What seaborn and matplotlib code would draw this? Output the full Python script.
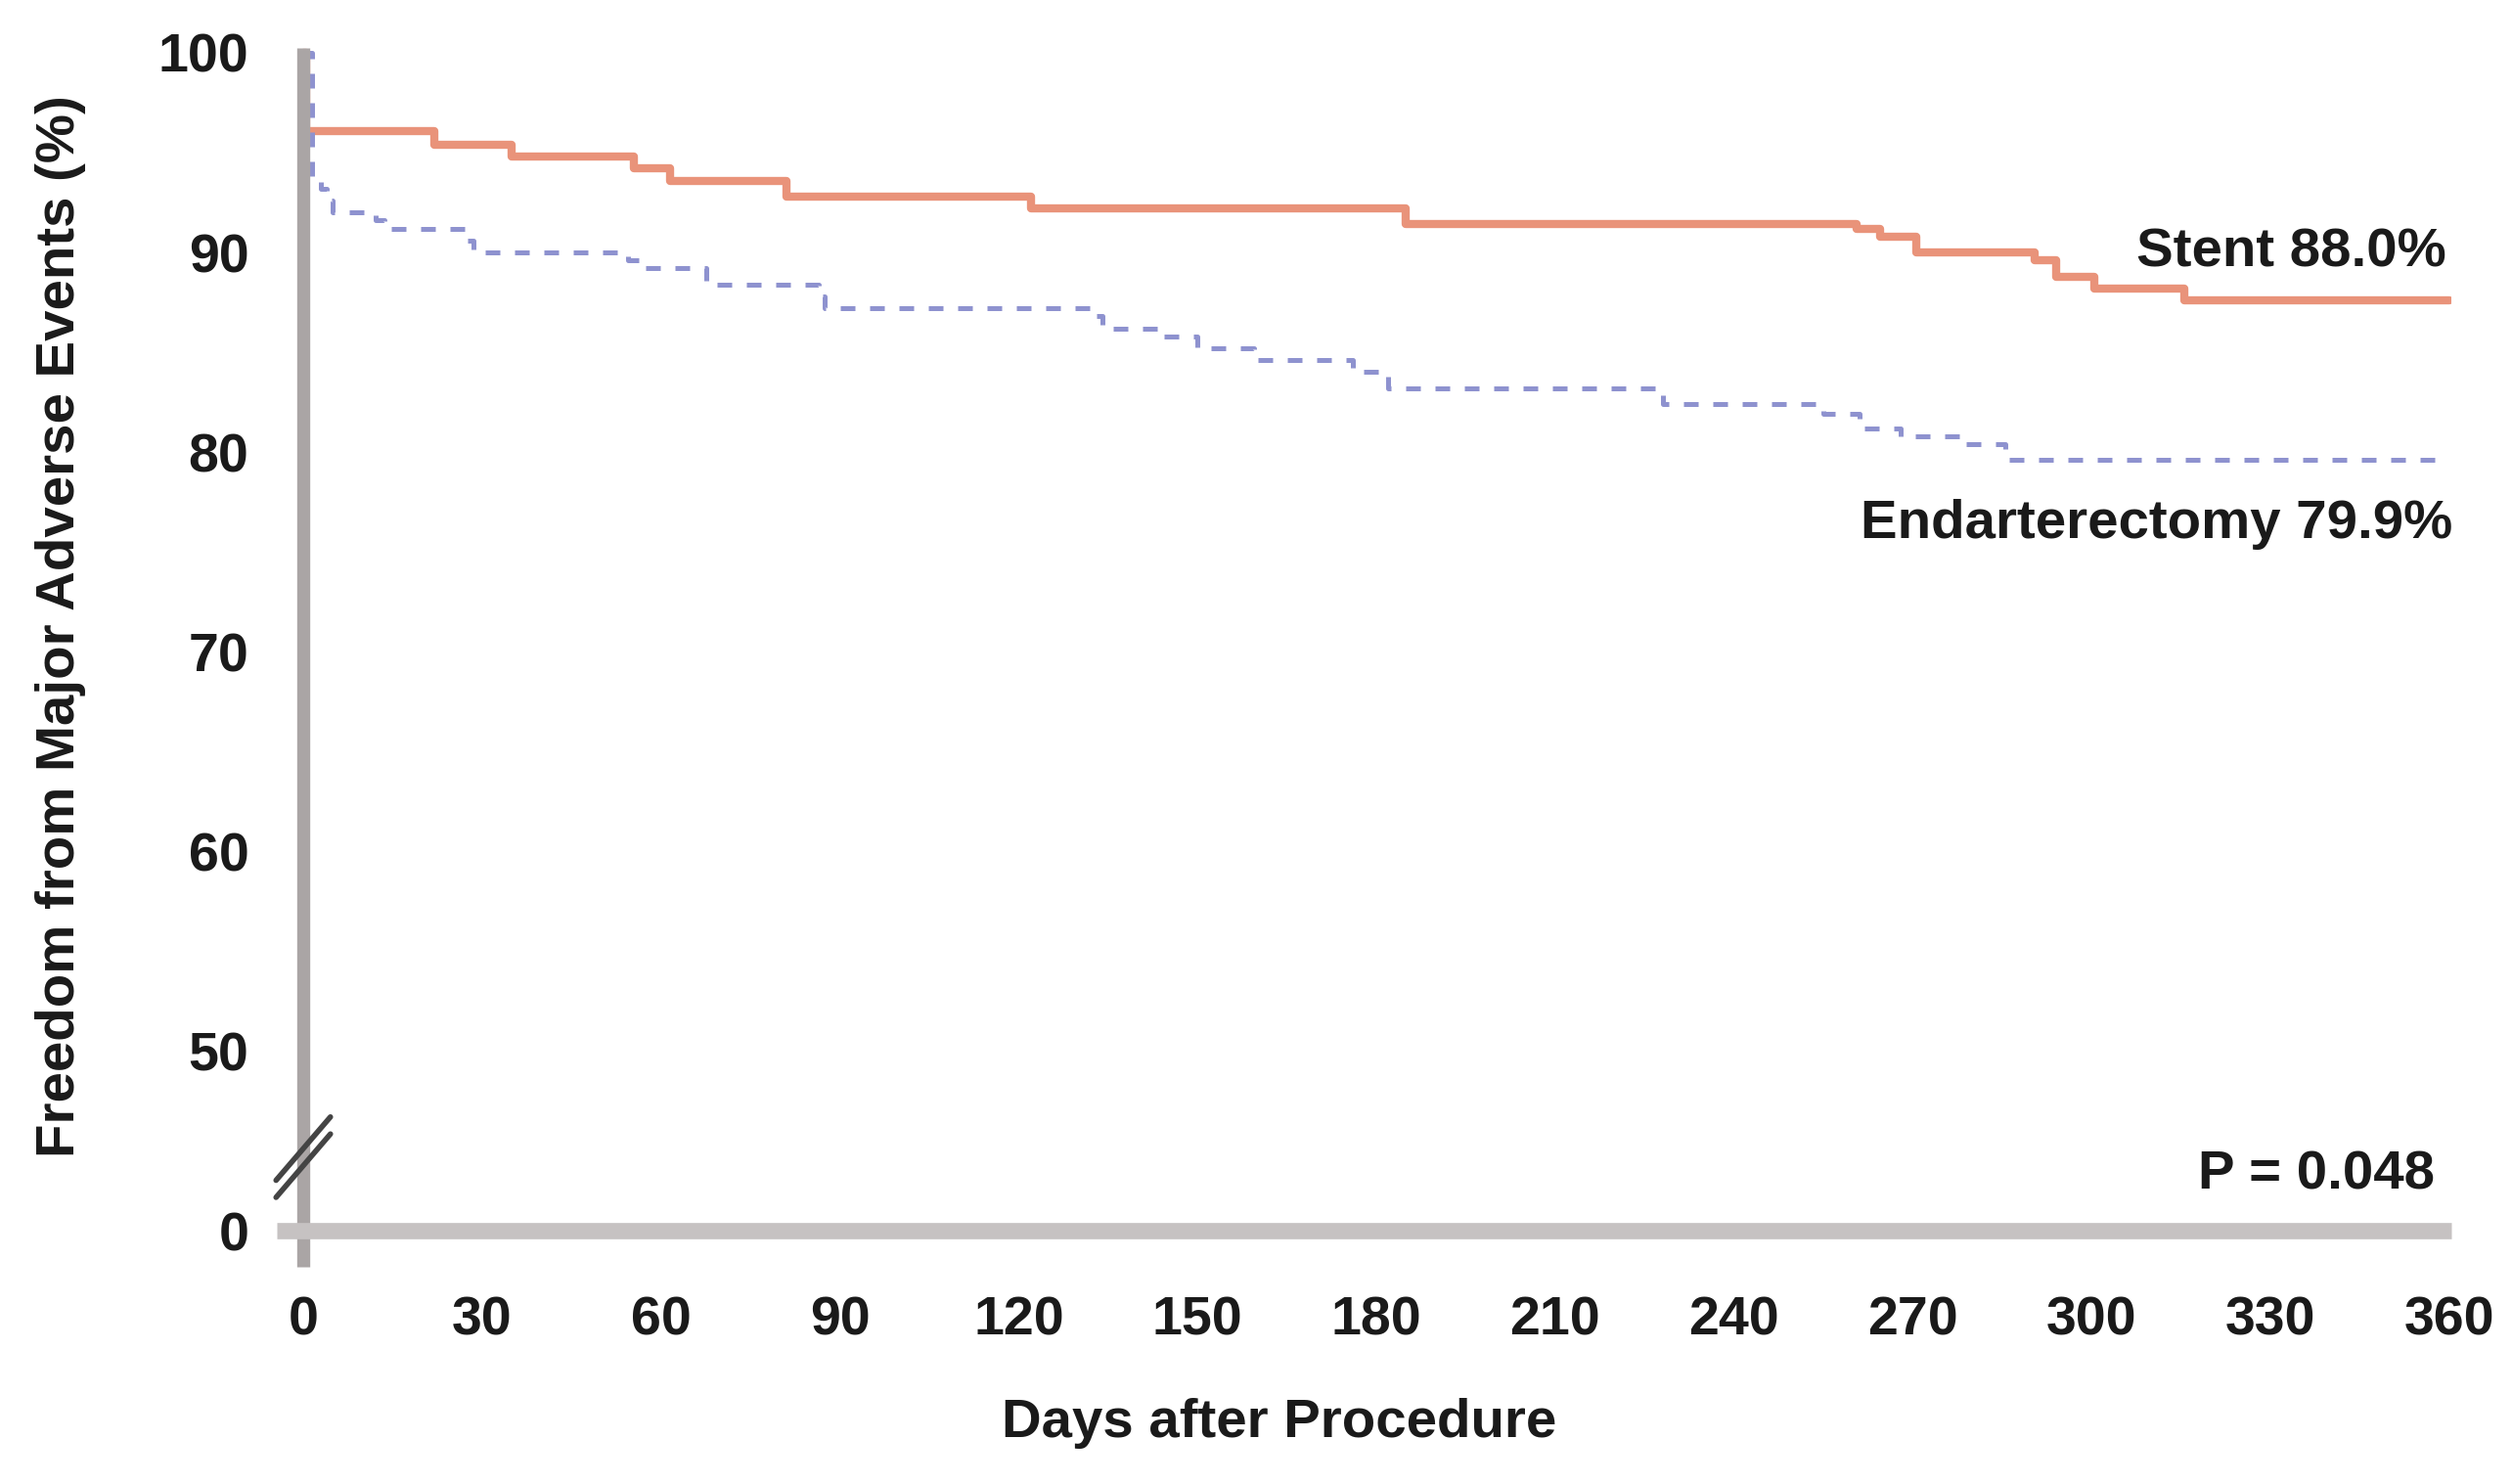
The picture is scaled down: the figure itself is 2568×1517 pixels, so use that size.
import numpy as np
import pandas as pd
import matplotlib
matplotlib.use("Agg")
import matplotlib.pyplot as plt
import seaborn as sns

# Kaplan-Meier style step data (day, % event free)
stent_days = [0, 0.5, 22, 35, 55.5, 61.5, 81, 122, 185, 260.5, 264.5, 270.5,
              290.5, 294, 300.5, 315.5, 360]
stent_surv = [100, 96.1, 95.4, 94.8, 94.2, 93.6, 92.8, 92.2, 91.4, 91.2, 90.8, 90.0,
              89.6, 88.8, 88.2, 87.6, 87.6]

endart_days = [0, 1.5, 3, 4, 5, 12.2, 13.6, 27.1, 28.6, 54.4, 56.5, 67.6, 86.5, 87.5,
               132, 134, 143.5, 150, 159.5, 176, 182, 228, 255, 261, 268, 278.5,
               285.5, 360]
endart_surv = [100, 93.8, 93.2, 92.6, 92.0, 91.6, 91.2, 90.6, 90.0, 89.6, 89.2, 88.4,
               87.8, 87.2, 86.8, 86.2, 85.8, 85.2, 84.6, 84.0, 83.2, 82.4, 81.9, 81.2,
               80.8, 80.4, 79.6, 79.6]

groups = ["Stent", "Endarterectomy"]
end_labels = ["Stent 88.0%", "Endarterectomy 79.9%"]
p_value_text = "P = 0.048"
x_ticks = list(range(0, 361, 30))
y_ticks = [0, 50, 60, 70, 80, 90, 100]

df = pd.concat([
    pd.DataFrame({"day": stent_days, "surv": stent_surv, "group": groups[0]}),
    pd.DataFrame({"day": endart_days, "surv": endart_surv, "group": groups[1]}),
], ignore_index=True)

sns.set_theme(style="white")
plt.rcParams["font.family"] = ["Liberation Sans", "DejaVu Sans"]
plt.rcParams["font.weight"] = "bold"

# axes box: day 0 at x=310px, day 360 at x=2504px; y=100 at 53px, y=0 at 1258px
xmin, xmax = -4.5, 360.3
px_day = (2504 - 310) / 360
left = (310 + xmin * px_day) / 2568
width = (xmax - xmin) * px_day / 2568

fig = plt.figure(figsize=(12.84, 7.585), dpi=200)
ax = fig.add_axes([left, 0.1465, width, 0.8213])

sns.lineplot(
    data=df, x="day", y="surv", hue="group", style="group",
    palette={"Stent": "#e9937a", "Endarterectomy": "#8e92cf"},
    dashes={"Stent": "", "Endarterectomy": (3, 3)},
    drawstyle="steps-post", estimator=None, sort=False, legend=False,
    ax=ax,
)
for line, lw in zip(ax.get_lines(), [3.0, 1.8]):
    line.set_linewidth(lw)


# broken y axis: 0 sits just below the 45 mark
def fwd(y):
    y = np.asarray(y, dtype=float)
    return np.where(y >= 45, y, 41.0 + y * 4.0 / 45.0)


def inv(u):
    u = np.asarray(u, dtype=float)
    return np.where(u >= 45, u, (u - 41.0) * 45.0 / 4.0)


ax.set_yscale("function", functions=(fwd, inv))
ax.set_xlim(xmin, xmax)
ax.set_ylim(-20.25, 100.25)
ax.set_xticks(x_ticks)
ax.set_yticks(y_ticks)
ax.minorticks_off()

for s in ["top", "right"]:
    ax.spines[s].set_visible(False)
ax.spines["left"].set_position(("data", 0))
ax.spines["left"].set_linewidth(4.8)
ax.spines["left"].set_color("#aaa5a5")
ax.spines["left"].set_capstyle("butt")
ax.spines["bottom"].set_position(("data", 0))
ax.spines["bottom"].set_linewidth(6)
ax.spines["bottom"].set_color("#c6c2c2")
ax.spines["bottom"].set_capstyle("butt")

ax.tick_params(axis="x", direction="out", length=12, width=2.2, color="#555555",
               pad=12, labelsize=20, labelcolor="#1a1a1a")
ax.tick_params(axis="y", direction="out", length=12, width=2.4, color="#555555",
               pad=8, labelsize=20, labelcolor="#1a1a1a")
ax.set_xlabel("")
ax.set_ylabel("")

# break marks on the y axis
spine_x = -xmin / (xmax - xmin)
for off in (-0.007, 0.007):
    ax.plot([spine_x - 0.0125, spine_x + 0.0125],
            [0.0898 + off - 0.026, 0.0898 + off + 0.026],
            transform=ax.transAxes, color="#444444", lw=2, clip_on=False, zorder=5)

ax.text(359.5, 90.0, end_labels[0], ha="right", va="center", fontsize=20.3,
        fontweight="bold", color="#1a1a1a")
ax.text(360.5, 76.4, end_labels[1], ha="right", va="center", fontsize=20.3,
        fontweight="bold", color="#1a1a1a")
ax.text(357.5, 31, p_value_text, ha="right", va="center", fontsize=20.3,
        fontweight="bold", color="#1a1a1a")

fig.text(0.5093, 0.0409, "Days after Procedure", ha="center", va="center",
         fontsize=20.3, fontweight="bold", color="#1a1a1a")
fig.text(0.0241, 0.578, "Freedom from Major Adverse Events (%)", ha="center",
         va="center", rotation=90, fontsize=20.3, fontweight="bold", color="#1a1a1a")

fig.savefig("out.png", dpi=200, facecolor="white")
